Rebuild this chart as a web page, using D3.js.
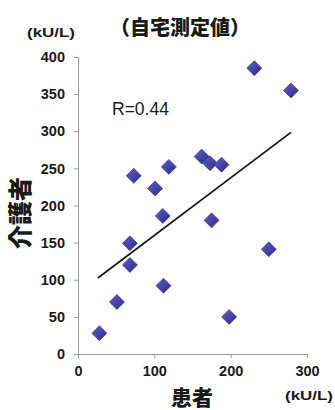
<!DOCTYPE html>
<html>
<head>
<meta charset="utf-8">
<script src="https://cdn.jsdelivr.net/npm/d3@7"></script>
<style>
  body { margin: 0; background: #fff; }
  text { font-family: "Liberation Sans", Arial, sans-serif; fill: #1a1a1a; }
  .jp { font-family: "Noto Sans CJK JP", sans-serif; font-weight: 900; }
</style>
</head>
<body>
<div id="chart"></div>
<script>
// patient (x) vs caregiver (y), kU/L
const patient   = [28, 51, 68, 68, 73, 101, 111, 112, 119, 162, 173, 188, 175, 198, 231, 250, 279]
const caregiver = [28, 70, 120, 149, 240, 223, 186, 92, 252, 266, 257, 255, 180, 50, 385, 141, 355]
const xTicks = [0, 100, 200, 300]
const yTicks = [0, 50, 100, 150, 200, 250, 300, 350, 400]

const width = 335
const height = 410
const margin = {left: 78, top: 57, right: 28, bottom: 56}

const svg = d3.select('#chart')
    .append('svg')
    .attr('width', width)
    .attr('height', height)

const x = d3.scaleLinear().domain([0, 300]).range([margin.left, 307])
const y = d3.scaleLinear().domain([0, 400]).range([354, margin.top])

// axes
const xAxis = svg.append('g')
    .attr('transform', `translate(0,${y(0)})`)
    .call(d3.axisBottom(x).tickValues(xTicks).tickSize(4).tickPadding(8))
const yAxis = svg.append('g')
    .attr('transform', `translate(${x(0)},0)`)
    .call(d3.axisLeft(y).tickValues(yTicks).tickSize(4).tickPadding(9))

;[xAxis, yAxis].forEach(a => {
    a.selectAll('path, line').attr('stroke', '#9a9a9a')
    a.selectAll('text')
        .attr('font-size', 14.5)
        .attr('font-weight', 'bold')
        .attr('font-family', '"Liberation Sans", Arial, sans-serif')
        .attr('fill', '#1a1a1a')
})

// regression line
const mx = d3.mean(patient), my = d3.mean(caregiver)
const slope = d3.sum(patient, (v, i) => (v - mx) * (caregiver[i] - my)) /
              d3.sum(patient, v => (v - mx) * (v - mx))
const icpt = my - slope * mx
const x0 = d3.min(patient) - 2, x1 = d3.max(patient)

svg.append('line')
    .attr('x1', x(x0)).attr('y1', y(icpt + slope * x0))
    .attr('x2', x(x1)).attr('y2', y(icpt + slope * x1))
    .attr('stroke', '#111')
    .attr('stroke-width', 1.6)

// diamonds
const defs = svg.append('defs')
const grad = defs.append('linearGradient')
    .attr('id', 'dg').attr('x1', 0).attr('y1', 0).attr('x2', 1).attr('y2', 1)
grad.append('stop').attr('offset', '0%').attr('stop-color', '#5d5dc8')
grad.append('stop').attr('offset', '100%').attr('stop-color', '#2c2c8a')

svg.append('g')
    .selectAll('path')
    .data(patient)
    .join('path')
    .attr('transform', (d, i) => `translate(${x(d)},${y(caregiver[i])})`)
    .attr('d', 'M0,-7.5L7.5,0L0,7.5L-7.5,0Z')
    .attr('fill', 'url(#dg)')
    .attr('stroke', '#2a2a7a')
    .attr('stroke-width', 0.6)

// texts
svg.append('text')
    .attr('x', 112).attr('y', 115)
    .attr('font-size', 17.5)
    .text('R=0.44')

svg.append('text')
    .attr('class', 'jp')
    .attr('x', 180).attr('y', 35)
    .attr('text-anchor', 'middle')
    .attr('font-size', 20)
    .text('（自宅測定値）')

svg.append('text')
    .attr('x', 27).attr('y', 37)
    .attr('font-size', 12)
    .attr('font-weight', 'bold')
    .attr('textLength', 48)
    .attr('lengthAdjust', 'spacingAndGlyphs')
    .text('(kU/L)')

svg.append('text')
    .attr('x', 285).attr('y', 400)
    .attr('font-size', 12)
    .attr('font-weight', 'bold')
    .attr('textLength', 48)
    .attr('lengthAdjust', 'spacingAndGlyphs')
    .text('(kU/L)')

svg.append('text')
    .attr('class', 'jp')
    .attr('x', 192).attr('y', 405)
    .attr('text-anchor', 'middle')
    .attr('font-size', 21)
    .text('患者')

svg.append('text')
    .attr('class', 'jp')
    .attr('transform', 'translate(29,213) rotate(-90)')
    .attr('text-anchor', 'middle')
    .attr('font-size', 24)
    .text('介護者')
</script>
</body>
</html>
